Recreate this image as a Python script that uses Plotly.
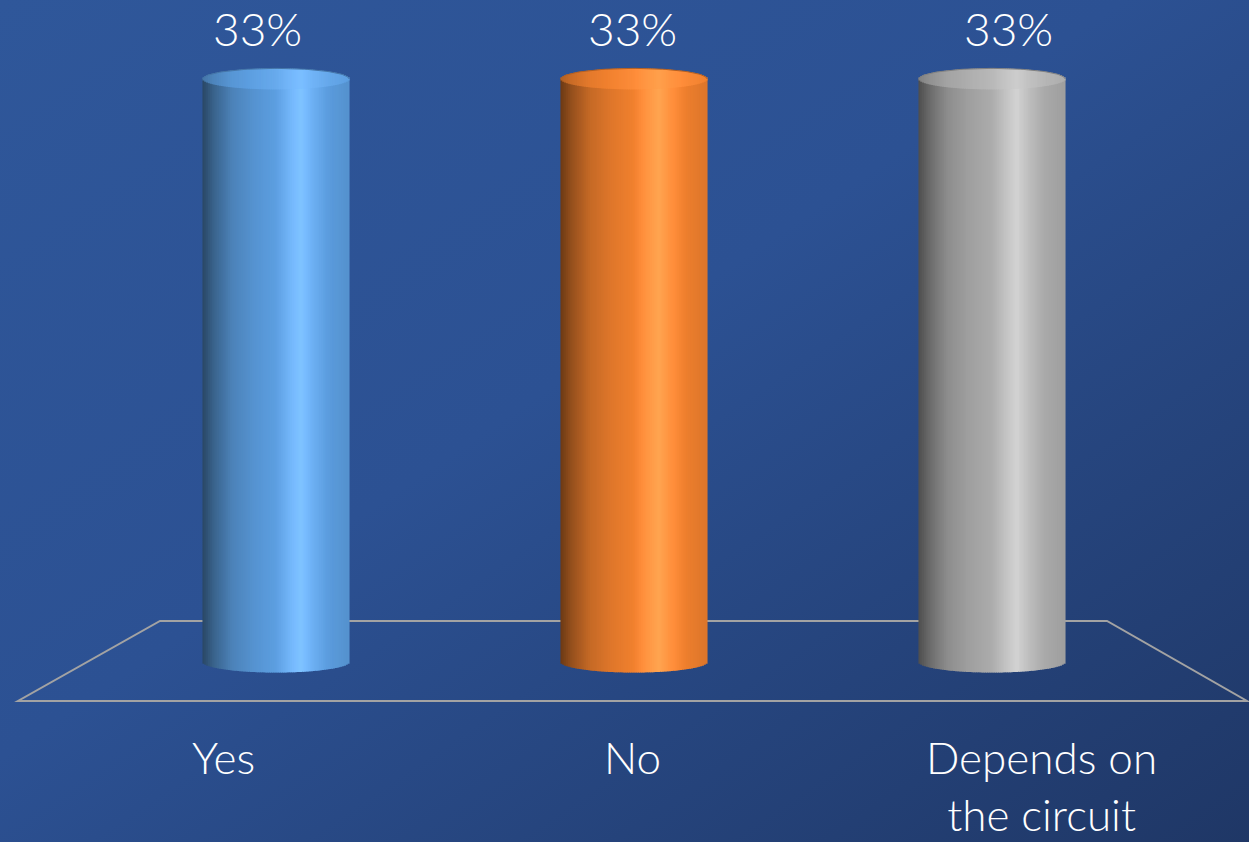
import base64
import textwrap
import numpy as np
import plotly.graph_objects as go

# ---- data -------------------------------------------------------------
categories = ["Yes", "No", "Depends on the circuit"]
percent = [33, 33, 33]
base_rgb = [(92, 158, 224), (240, 128, 46), (172, 172, 172)]

# ---- page / axis geometry (pixels) ------------------------------------
W, H = 1249, 842
X_FIRST_PX, X_STEP_PX = 276, 358          # centre of first column, column pitch
Y_ZERO_PX, PX_PER_PCT = 662, 17.67        # baseline and vertical scale
CYL_W_PX, ELL_PX = 146, 10.5              # cylinder diameter, ellipse half-height
N_SLICES = 80

x_range = [-X_FIRST_PX / X_STEP_PX, (W - X_FIRST_PX) / X_STEP_PX]
y_range = [-(H - Y_ZERO_PX) / PX_PER_PCT, Y_ZERO_PX / PX_PER_PCT]
cyl_w = CYL_W_PX / X_STEP_PX
ell = ELL_PX / PX_PER_PCT

# perspective offsets of the labels relative to the column centres (px)
value_label_shift = [-19, -2, 16]
cat_label_shift = [-53, -2, 49]

FONT = "Lato"
FONT_WEIGHT = 300

# shading profile across the cylinder (u = -1 left edge .. 1 right edge)
shade_u = [-1.0, -0.85, -0.6, -0.3, 0.0, 0.2, 0.35, 0.5, 0.75, 1.0]
shade_f = [0.45, 0.62, 0.82, 0.93, 1.00, 1.10, 1.16, 1.08, 0.98, 0.92]


def shade(rgb, f):
    out = []
    for c in rgb:
        val = c * f
        if f > 1:
            val += (255 - c) * (f - 1) * 0.8
        out.append(int(max(0, min(255, round(val)))))
    return "rgb({},{},{})".format(*out)


fig = go.Figure()

u = -1 + (2 * np.arange(N_SLICES) + 1) / N_SLICES
half = np.sqrt(np.clip(1 - u ** 2, 0, 1))
f_side = np.interp(u, shade_u, shade_f)
f_top = 0.55 * f_side + 0.5
slice_w = cyl_w / N_SLICES * 1.6

for i, (cat, v, rgb) in enumerate(zip(categories, percent, base_rgb)):
    xs = i + u * cyl_w / 2
    # curved body: from the front of the bottom ellipse up to the value
    fig.add_trace(go.Bar(
        x=xs, y=v + ell * half, base=-ell * half, width=slice_w,
        marker=dict(color=[shade(rgb, f) for f in f_side], line=dict(width=0)),
        hoverinfo="skip", showlegend=False, name=cat,
    ))
    # top face of the cylinder
    fig.add_trace(go.Bar(
        x=xs, y=2 * ell * half, base=v - ell * half, width=slice_w,
        marker=dict(color=[shade(rgb, f) for f in f_top], line=dict(width=0)),
        hoverinfo="skip", showlegend=False, name=cat,
    ))
    # thin rim along the back edge of the top face
    t = np.linspace(0, np.pi, 60)
    fig.add_trace(go.Scatter(
        x=i + np.cos(t) * cyl_w / 2, y=v + ell * np.sin(t), mode="lines",
        line=dict(color=shade(rgb, 0.75), width=1),
        hoverinfo="skip", showlegend=False,
    ))

# value labels above each cylinder
annotations = []
for i, v in enumerate(percent):
    annotations.append(dict(
        x=i, y=v, xref="x", yref="y", text=f"{v}%", showarrow=False,
        xshift=value_label_shift[i], yshift=50, yanchor="middle",
        font=dict(family=FONT, size=46, color="white", weight=FONT_WEIGHT),
    ))

# category labels under the floor (long names wrap onto two lines)
for i, cat in enumerate(categories):
    text = "<br>".join(textwrap.wrap(cat, 11))
    annotations.append(dict(
        x=i, y=1 - 729 / H, xref="x", yref="paper", text=text,
        showarrow=False, xshift=cat_label_shift[i], yanchor="top",
        font=dict(family=FONT, size=44, color="white", weight=FONT_WEIGHT),
    ))

# floor outline (perspective plane)
floor_pts = [(160, 621), (1107, 621), (1247, 701), (18, 701)]
path = "M " + " L ".join(f"{x / W:.5f},{1 - y / H:.5f}" for x, y in floor_pts) + " Z"

# blue gradient backdrop
svg = f"""<svg xmlns='http://www.w3.org/2000/svg' width='{W}' height='{H}'>
<defs><linearGradient id='g' x1='0' y1='0' x2='1' y2='1'>
<stop offset='0' stop-color='#2f579a'/>
<stop offset='0.45' stop-color='#2c5193'/>
<stop offset='1' stop-color='#1f3766'/>
</linearGradient></defs>
<rect width='{W}' height='{H}' fill='url(#g)'/></svg>"""
bg_uri = "data:image/svg+xml;base64," + base64.b64encode(svg.encode()).decode()

fig.update_layout(
    width=W, height=H, autosize=False,
    margin=dict(l=0, r=0, t=0, b=0),
    paper_bgcolor="#2b5091", plot_bgcolor="rgba(0,0,0,0)",
    barmode="overlay", showlegend=False,
    xaxis=dict(range=x_range, visible=False, fixedrange=True),
    yaxis=dict(range=y_range, visible=False, fixedrange=True),
    annotations=annotations,
    shapes=[dict(type="path", path=path, xref="paper", yref="paper",
                 line=dict(color="#a3a3a3", width=2), layer="below")],
    images=[dict(source=bg_uri, xref="paper", yref="paper", x=0, y=1,
                 sizex=1, sizey=1, sizing="stretch", layer="below",
                 xanchor="left", yanchor="top")],
)

fig.write_html("out.html")
